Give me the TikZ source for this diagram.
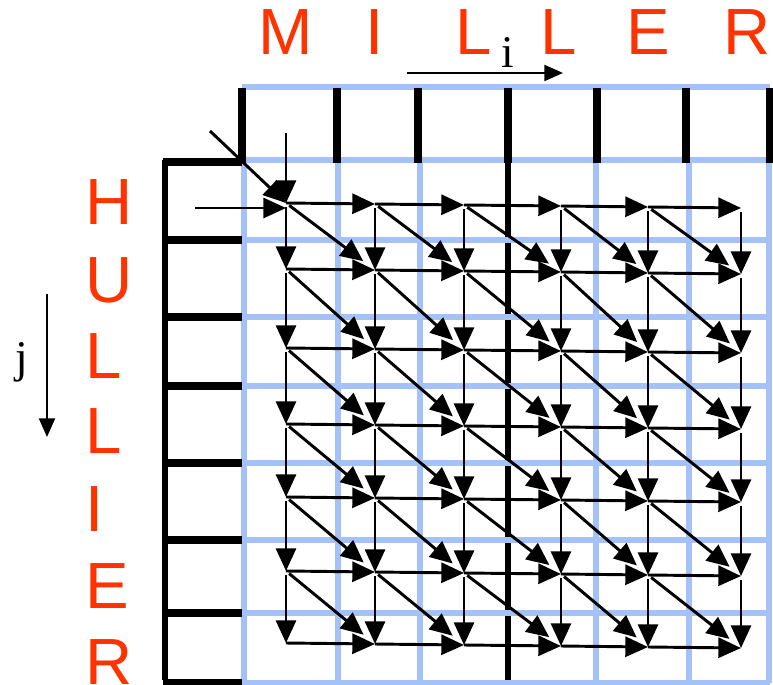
\documentclass[tikz,border=0pt]{standalone}
\usepackage{fontspec}
\setmainfont{Liberation Serif}
\newfontfamily\letterfont{Liberation Sans}
\usepackage{tikz}
\usetikzlibrary{arrows.meta}
\definecolor{gridblue}{HTML}{A4C2F8}
\definecolor{letterred}{HTML}{FF3300}

\begin{document}
\begin{tikzpicture}[x=0.75pt, y=-0.75pt,
		every node/.style={inner sep=0pt},
		grid/.style={draw=gridblue, line width=5pt},
		bar/.style={draw=black, line width=5pt},
		arr/.style={-{Triangle[length=17pt,width=15pt]}, line width=2.2pt},
		diag/.style={arr, shorten <=3pt, shorten >=11pt},
		axis/.style={-{Triangle[length=14pt,width=12pt]}, line width=1.6pt},
		letter/.style={font=\letterfont\fontsize{49}{49}\selectfont, text=letterred},
		idx/.style={font=\fontsize{34}{34}\selectfont, anchor=base}
	]
	\useasboundingbox (0,0) rectangle (773,684);

	% table frame
	\draw[bar] (508,160) -- (508,684);
	\foreach \y in {87,160,240,317,386,463,540,613,683}
		\draw[grid] (242,\y) -- (770,\y);
	\foreach \x in {244,338,420,596,689,769}
		\draw[grid] (\x,160) -- (\x,683);
	\foreach \x in {242,337,418,508,597,686,770}
		\draw[bar, line width=6pt] (\x,88) -- (\x,163);
	\draw[bar, line width=5pt] (165,160) -- (165,680);
	\foreach \y in {162,240,317,386,463,540,613,683}
		\draw[bar, line width=5.5pt] (163,\y) -- (242,\y);

	% cells
	\foreach \c/\x in {0/286,1/375,2/464,3/561,4/648,5/741}
		\foreach \r/\y in {0/203,1/269,2/348,3/424,4/497,5/571,6/643}
			\coordinate (p\c\r) at (\x,\y+\c);

	\coordinate (d0) at (210,131);
	\coordinate (v0) at (286,133);
	\coordinate (h0) at (195,208);
	\draw[arr] (d0) -- (p00);
	\draw[arr] (v0) -- (p00);
	\draw[arr] (h0) -- (h0 -| p00);

	\foreach \c in {0,...,5}
		\foreach \r in {0,...,6} {
			\pgfmathtruncatemacro\cn{\c+1}
			\pgfmathtruncatemacro\rn{\r+1}
			\ifnum\c<5 \draw[arr] (p\c\r) -- (p\cn\r); \fi
			\ifnum\r<6 \draw[arr, shorten <=3pt] (p\c\r) -- (p\c\rn); \fi
			\ifnum\c<5 \ifnum\r<6 \draw[diag] (p\c\r) -- (p\cn\rn); \fi\fi
		}

	% strings
	\foreach \x/\l [count=\k] in {286/M,375/I,474/L,559/L,648/E,747/R}
		\node[letter, anchor=base] (top\k) at (\x,55) {\l};
	\foreach \y/\l [count=\k] in {224/H,302/U,378/L,453/L,531/I,608/E,684/R}
		\node[letter, anchor=base west] (side\k) at (85,\y) {\l};

	% indices
	\coordinate (ia) at (407,73);
	\coordinate (ib) at (563,73);
	\draw[axis] (ia) -- (ib);
	\node[idx] (i) at (508,68) {i};
	\coordinate (ja) at (47,294);
	\coordinate (jb) at (47,437);
	\draw[axis] (ja) -- (jb);
	\node[idx] (j) at (22,372) {j};
\end{tikzpicture}
\end{document}
